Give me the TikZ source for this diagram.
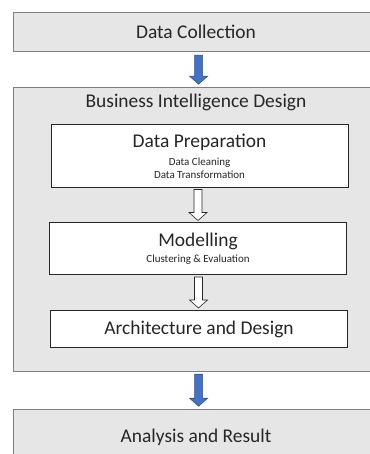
\documentclass[tikz,border=0pt]{standalone}
\usepackage{fontspec}
\setmainfont{Carlito}
\usetikzlibrary{positioning,calc}
\definecolor{boxgray}{HTML}{E7E6E6}
\definecolor{edgegray}{HTML}{7F7F7F}
\definecolor{arrowblue}{HTML}{4472C4}
\definecolor{arrowedge}{HTML}{2F528F}
\definecolor{textdark}{HTML}{262626}
\newcommand{\bigtxt}{\fontsize{19.5}{22}\selectfont}
\newcommand{\smalltxt}{\fontsize{11}{13}\selectfont}
% block arrow pointing down: style, top point, length
\newcommand{\blockarrow}[3]{%
	\draw[#1] ($(#2)+(-4,0)$) -- ($(#2)+(4,0)$) -- ($(#2)+(4,#3-8)$) -- ($(#2)+(9,#3-8)$)
		-- ($(#2)+(0,#3)$) -- ($(#2)+(-9,#3-8)$) -- ($(#2)+(-4,#3-8)$) -- cycle;}
\tikzset{
	outerbox/.style={draw=edgegray,fill=boxgray,line width=1.2bp,minimum width=366bp,inner sep=0pt},
	boxtitle/.style={text=textdark,font=\bigtxt,inner sep=0pt},
	innerbox/.style={draw=textdark,fill=white,line width=1bp,minimum width=297bp,inner sep=0pt,align=center,text=textdark,font=\bigtxt},
	bluearrow/.style={fill=arrowblue,draw=arrowedge,line width=0.6bp,line join=miter},
	hollowarrow/.style={fill=white,draw=textdark,line width=0.6bp,line join=miter}
}
\begin{document}
\begin{tikzpicture}[x=1bp,y=-1bp]
	\useasboundingbox (0,0) rectangle (369,454);
	% outer boxes
	\node[outerbox,minimum height=39bp,anchor=north west] (collect) at (13,12) {};
	\node[boxtitle] (collecttxt) at (196,32) {Data Collection};
	\node[outerbox,minimum height=284bp,anchor=north west] (bi) at (13,87) {};
	\node[boxtitle] (bitxt) at (196,102) {Business Intelligence Design};
	\node[outerbox,minimum height=60bp,anchor=north west] (result) at (13,409) {};
	\node[boxtitle] (resulttxt) at (196,437) {Analysis and Result};
	% inner boxes
	\node[innerbox,minimum height=63bp,anchor=north west] (prep) at (50.5,124) {Data Preparation\\[-4bp]{\smalltxt Data Cleaning}\\[-9bp]{\smalltxt Data Transformation}};
	\node[innerbox,minimum height=52bp,anchor=north west] (model) at (49,222) {Modelling\\[-6bp]{\smalltxt Clustering \& Evaluation}};
	\node[innerbox,minimum height=37bp,anchor=north west] (arch) at (50,310) {Architecture and Design};
	% arrows
	\coordinate (a1) at ($(collect.south)+(2,3)$);
	\coordinate (a2) at ($(prep.south)+(-1.5,1.5)$);
	\coordinate (a3) at ($(model.south)+(0.5,2)$);
	\coordinate (a4) at ($(bi.south)+(2,2)$);
	\blockarrow{bluearrow}{a1}{29}
	\blockarrow{hollowarrow}{a2}{31}
	\blockarrow{hollowarrow}{a3}{31}
	\blockarrow{bluearrow}{a4}{32}
\end{tikzpicture}
\end{document}
